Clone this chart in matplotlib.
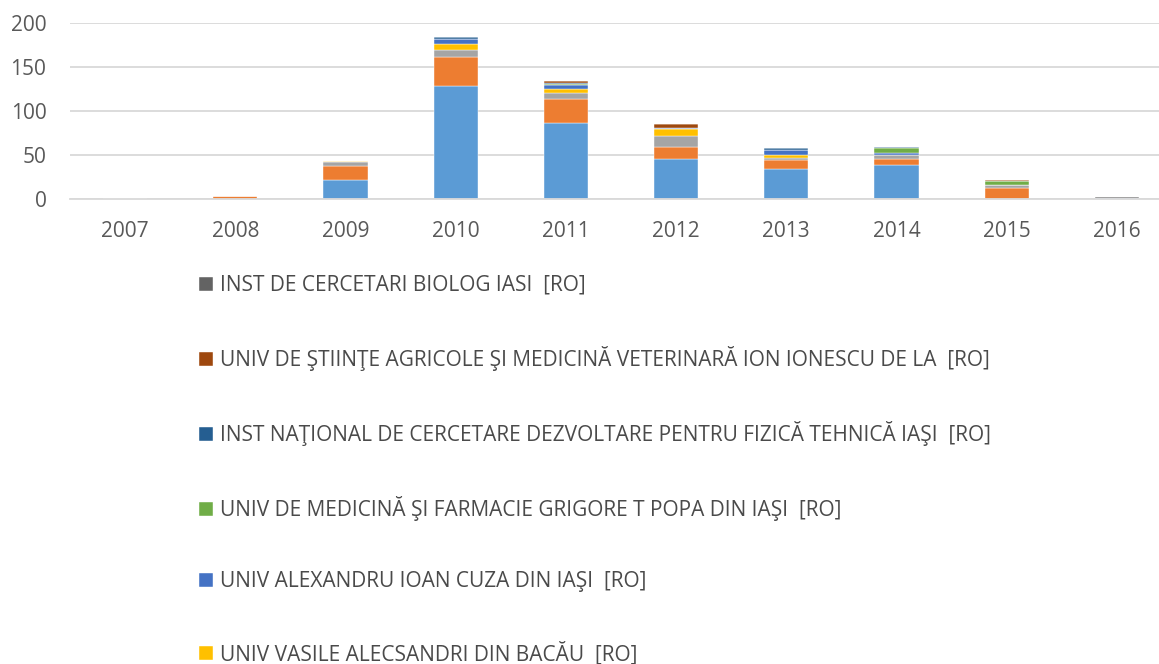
import matplotlib.pyplot as plt
import numpy as np

years = ['2007', '2008', '2009', '2010', '2011', '2012', '2013', '2014', '2015', '2016']

# series in stacking order (bottom to top)
names = [
    'UNIV TEHNICĂ GHEORGHE ASACHI DIN IAŞI  [RO]',
    'INST DE CHIMIE MACROMOLECULARĂ PETRU PONI  [RO]',
    'INST DE CERCETARI DEZVOLTARE PENTRU ELECTROTEHNICĂ  [RO]',
    'UNIV VASILE ALECSANDRI DIN BACĂU  [RO]',
    'UNIV ALEXANDRU IOAN CUZA DIN IAŞI  [RO]',
    'UNIV DE MEDICINĂ ŞI FARMACIE GRIGORE T POPA DIN IAŞI  [RO]',
    'INST NAŢIONAL DE CERCETARE DEZVOLTARE PENTRU FIZICĂ TEHNICĂ IAŞI  [RO]',
    'UNIV DE ŞTIINŢE AGRICOLE ŞI MEDICINĂ VETERINARĂ ION IONESCU DE LA  [RO]',
    'INST DE CERCETARI BIOLOG IASI  [RO]',
]
colors = ['#5B9BD5', '#ED7D31', '#A5A5A5', '#FFC000', '#4472C4',
          '#70AD47', '#255E91', '#9E480E', '#636363']

tuiasi   = [0, 0, 22, 128, 86, 45, 34, 39, 0, 0]
icmpp    = [0.5, 3, 16, 33, 28, 14, 10, 6, 13, 0]
gray_s   = [0, 0, 4, 8, 6, 13, 3, 4.5, 3, 0]
ub       = [0, 0, 1, 7, 5, 7, 2.5, 1, 0, 0]
uaic     = [0, 0, 0, 6, 4, 2, 6, 2, 0, 1]
umf      = [0, 0, 0, 0, 2, 0, 0, 5, 5, 0]
inc_fiz  = [0, 0, 0, 2, 1, 0, 2, 2, 0, 0]
usamv    = [0, 0, 0, 0, 2, 4, 0, 0, 1, 0]
biolog   = [0, 0, 0, 0, 0, 0, 0, 0, 0, 1]

series = [tuiasi, icmpp, gray_s, ub, uaic, umf, inc_fiz, usamv, biolog]

plt.rcParams['font.family'] = ['Open Sans', 'DejaVu Sans']

fig = plt.figure(figsize=(11.59, 6.64), dpi=100)
ax = fig.add_axes([70 / 1159, 1 - 199 / 664, 1102 / 1159, 176 / 664])

x = np.arange(len(years))
bottom = np.zeros(len(years))
handles = []
for vals, name, c in zip(series, names, colors):
    b = ax.bar(x, vals, width=0.4, bottom=bottom, color=c, label=name,
               edgecolor='white', linewidth=0.3)
    handles.append(b)
    bottom += np.array(vals)

ax.set_xlim(-0.5, 9.5)
ax.set_ylim(0, 200)
ax.set_yticks([0, 50, 100, 150, 200])
ax.set_xticks(x)
ax.set_xticklabels(years)
ax.yaxis.grid(True, color='#D9D9D9', linewidth=1.3)
ax.set_axisbelow(True)
for s in ['top', 'right', 'left']:
    ax.spines[s].set_visible(False)
ax.spines['bottom'].set_color('#D9D9D9')
ax.spines['bottom'].set_linewidth(1.3)
ax.tick_params(axis='both', length=0, labelsize=15, labelcolor='#595959')
ax.tick_params(axis='x', pad=16)
ax.tick_params(axis='y', pad=17)

leg = fig.legend(handles[::-1], names[::-1], loc='upper left',
                 bbox_to_anchor=(199 / 1159, 1 - 275 / 664),
                 frameon=False, fontsize=15, labelcolor='#4a4a4a',
                 handlelength=0.65, handleheight=0.65, handletextpad=0.35,
                 labelspacing=2.40, borderpad=0, borderaxespad=0)

fig.savefig('out.png', dpi=100)
